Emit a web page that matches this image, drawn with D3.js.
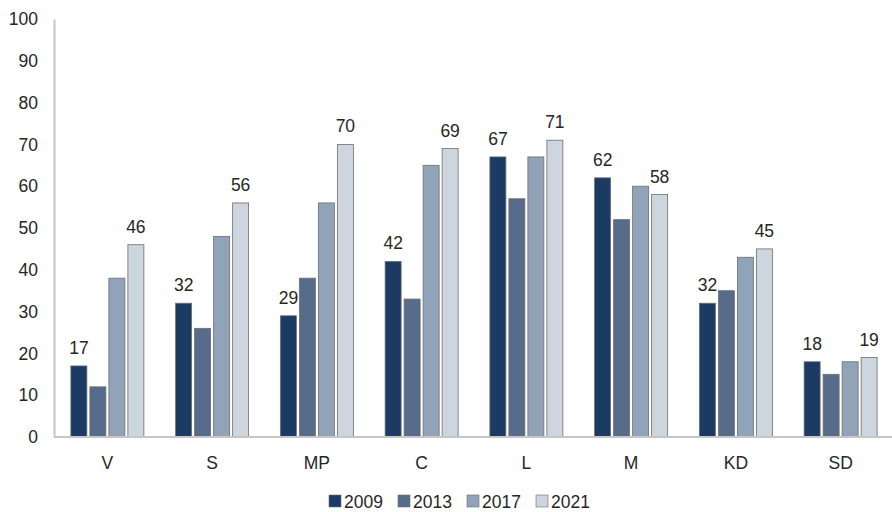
<!DOCTYPE html>
<html>
<head>
<meta charset="utf-8">
<script src="https://cdn.jsdelivr.net/npm/d3@7"></script>
<style>
  body { margin: 0; background: #fff; }
  text { font-family: "Liberation Sans", Arial, sans-serif; fill: #262626; }
</style>
</head>
<body>
<div id="chart"></div>
<script>
(function () {
  const categories = ["V", "S", "MP", "C", "L", "M", "KD", "SD"];
  const years = ["2009", "2013", "2017", "2021"];
  const v2009 = [17, 32, 29, 42, 67, 62, 32, 18];
  const v2013 = [12, 26, 38, 33, 57, 52, 35, 15];
  const v2017 = [38, 48, 56, 65, 67, 60, 43, 18];
  const v2021 = [46, 56, 70, 69, 71, 58, 45, 19];
  const yTicks = [0, 10, 20, 30, 40, 50, 60, 70, 80, 90, 100];
  const labelled = ["2009", "2021"]; // only these series carry value labels

  const series = { "2009": v2009, "2013": v2013, "2017": v2017, "2021": v2021 };
  const colors = { "2009": "#1b3a64", "2013": "#576b8b", "2017": "#90a3b9", "2021": "#cdd5df" };

  const W = 892, H = 512;
  const left = 54, right = 892, top = 19, bottom = 437;
  const fs = "17.5px";

  const svg = d3.select("#chart").append("svg")
    .attr("width", W).attr("height", H);

  const x0 = d3.scaleBand().domain(categories).range([left + 1, right + 1])
    .paddingInner(0.303).paddingOuter(0.1515);
  const x1 = d3.scaleBand().domain(years).range([0, x0.bandwidth()])
    .paddingInner(0.158);
  const y = d3.scaleLinear().domain([0, 100]).range([bottom, top]);

  // y axis
  const yAxis = svg.append("g")
    .attr("transform", `translate(${left},0)`)
    .call(d3.axisLeft(y).tickValues(yTicks).tickSize(0).tickPadding(16));
  yAxis.select(".domain").attr("stroke", "#c6c6c6").attr("stroke-width", 2);
  yAxis.selectAll(".tick text").style("font-size", fs).attr("fill", "#262626");

  // bars
  const groups = svg.append("g").selectAll("g")
    .data(categories)
    .join("g")
    .attr("transform", d => `translate(${x0(d)},0)`);

  groups.selectAll("rect")
    .data((c, i) => years.map(yr => ({ yr, v: series[yr][i] })))
    .join("rect")
    .attr("x", d => x1(d.yr))
    .attr("y", d => y(d.v))
    .attr("width", x1.bandwidth())
    .attr("height", d => bottom - y(d.v))
    .attr("fill", d => colors[d.yr])
    .attr("stroke", "#6e6e6e")
    .attr("stroke-width", 0.8);

  groups.selectAll("text.val")
    .data((c, i) => labelled.map(yr => ({ yr, v: series[yr][i] })))
    .join("text")
    .attr("class", "val")
    .attr("x", d => x1(d.yr) + x1.bandwidth() / 2)
    .attr("y", d => y(d.v) - 12)
    .attr("text-anchor", "middle")
    .style("font-size", fs)
    .text(d => d.v);

  // x axis
  const xAxis = svg.append("g")
    .attr("transform", `translate(0,${bottom})`)
    .call(d3.axisBottom(x0).tickSize(0).tickPadding(20).tickSizeOuter(0));
  xAxis.select(".domain").attr("stroke", "#c6c6c6").attr("stroke-width", 2)
    .attr("d", `M${left},0H${right}`);
  xAxis.selectAll(".tick text").style("font-size", fs).attr("fill", "#262626");

  // legend
  const legend = svg.append("g").attr("transform", "translate(329,495)");
  const itemW = 69;
  const items = legend.selectAll("g")
    .data(years)
    .join("g")
    .attr("transform", (d, i) => `translate(${i * itemW},0)`);
  items.append("rect")
    .attr("x", 0).attr("y", 0)
    .attr("width", 12).attr("height", 12)
    .attr("fill", d => colors[d])
    .attr("stroke", "#6e6e6e")
    .attr("stroke-width", 0.6);
  items.append("text")
    .attr("x", 15).attr("y", 12.5)
    .style("font-size", fs)
    .text(d => d);
})();
</script>
</body>
</html>
